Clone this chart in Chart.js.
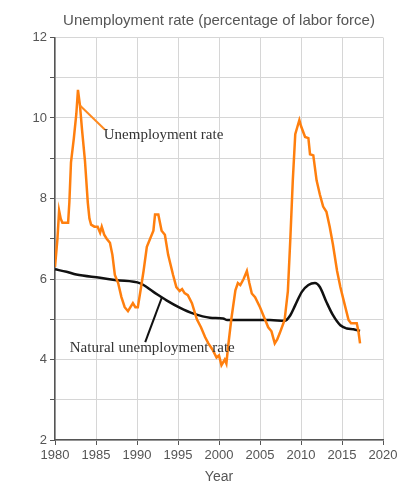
<!DOCTYPE html>
<html>
<head>
<meta charset="utf-8">
<script src="https://cdn.jsdelivr.net/npm/chart.js@4.4.1/dist/chart.umd.min.js"></script>
<style>
  html, body { margin: 0; padding: 0; background: #fff; }
  #wrap { width: 405px; height: 497px; position: relative; }
</style>
</head>
<body>
<div id="wrap"><canvas id="c"></canvas></div>
<script>
// unemployment rate (decimal year, percent)
const unempYears = [1980.0, 1980.3, 1980.5, 1980.7, 1980.9, 1981.3, 1981.6, 1981.75, 1981.95, 1982.3,
  1982.6, 1982.8, 1983.05, 1983.3, 1983.65, 1984.0, 1984.2, 1984.4, 1984.8, 1985.2, 1985.5,
  1985.7, 1986.0, 1986.3, 1986.7, 1987.0, 1987.3, 1987.7, 1988.1, 1988.5, 1988.9,
  1989.2, 1989.5, 1989.8, 1990.1, 1990.5, 1990.8, 1991.2, 1991.6, 1992.0, 1992.2,
  1992.6, 1993.0, 1993.4, 1993.8, 1994.4, 1994.8, 1995.2, 1995.5, 1995.8, 1996.2,
  1996.7, 1997.3, 1997.8, 1998.3, 1998.7, 1999.2, 1999.7, 2000.0, 2000.3, 2000.7,
  2000.9, 2001.1, 2001.5, 2002.0, 2002.3, 2002.6, 2003.0, 2003.4, 2003.7, 2004.0,
  2004.4, 2005.0, 2005.5, 2006.0, 2006.4, 2006.8, 2007.1, 2007.4, 2008.0, 2008.4,
  2008.7, 2009.0, 2009.3, 2009.8, 2010.0, 2010.5, 2010.9, 2011.1, 2011.5, 2011.9,
  2012.3, 2012.7, 2013.1, 2013.5, 2013.9, 2014.4, 2014.8, 2015.2,
  2015.8, 2016.1, 2016.4, 2016.8, 2017.0, 2017.2];
const unempRate = [6.3, 7.0, 7.7, 7.5, 7.4, 7.4, 7.4, 7.9, 8.9, 9.5,
  10.1, 10.7, 10.3, 9.7, 8.95, 7.9, 7.5, 7.35, 7.3, 7.3, 7.15,
  7.3, 7.1, 7.0, 6.9, 6.6, 6.1, 5.9, 5.55, 5.3, 5.2,
  5.3, 5.4, 5.3, 5.3, 5.8, 6.2, 6.8, 7.0, 7.2, 7.6,
  7.6, 7.2, 7.1, 6.6, 6.1, 5.8, 5.7, 5.75, 5.65, 5.6,
  5.4, 5.0, 4.8, 4.56, 4.4, 4.25, 4.05, 4.1, 3.86, 4.0,
  3.9, 4.3, 5.0, 5.72, 5.9, 5.85, 6.0, 6.2, 5.9, 5.64,
  5.55, 5.3, 5.05, 4.8, 4.7, 4.4, 4.5, 4.65, 4.98, 5.7,
  7.0, 8.45, 9.6, 9.95, 9.8, 9.53, 9.5, 9.1, 9.07, 8.45,
  8.1, 7.8, 7.67, 7.3, 6.85, 6.2, 5.8, 5.47,
  4.98, 4.9, 4.9, 4.9, 4.7, 4.4];

// natural unemployment rate
const naturalYears = [1980.0, 1981.4, 1982.6, 1985.5, 1987.5, 1990.4, 1992.0, 1993.6, 1995.2, 1996.9,
  1998.9, 2000.5, 2001.0, 2004.0, 2006.2, 2008.0, 2008.7, 2009.3, 2010.1, 2010.9,
  2011.7, 2012.3, 2013.1, 2013.9, 2014.8, 2015.6, 2016.4, 2017.2];
const naturalRate = [6.24, 6.18, 6.11, 6.03, 5.97, 5.89, 5.68, 5.47, 5.29, 5.14,
  5.04, 5.02, 4.98, 4.98, 4.98, 4.96, 5.1, 5.35, 5.68, 5.85,
  5.9, 5.8, 5.43, 5.1, 4.85, 4.77, 4.75, 4.71];

const xTicks = [1980, 1985, 1990, 1995, 2000, 2005, 2010, 2015, 2020];
const yLabelled = [2, 4, 6, 8, 10, 12];

// label text with anchor in data units, and leader lines
const notes = [
  { text: 'Unemployment rate', x: 1985.95, y: 9.57, line: [1983.05, 10.31, 1986.1, 9.71], lineColor: '#ff8a1f' },
  { text: 'Natural unemployment rate', x: 1981.8, y: 4.28, line: [1991.0, 4.43, 1993.05, 5.55], lineColor: '#111' }
];

const TXT = '#555';
const GRID = '#d6d6d6';
const AXIS = '#555';

const notesPlugin = {
  id: 'notes',
  afterDatasetsDraw(chart) {
    const { ctx, scales: { x, y } } = chart;
    ctx.save();
    notes.forEach(n => {
      ctx.strokeStyle = n.lineColor;
      ctx.lineWidth = 2;
      ctx.beginPath();
      ctx.moveTo(x.getPixelForValue(n.line[0]), y.getPixelForValue(n.line[1]));
      ctx.lineTo(x.getPixelForValue(n.line[2]), y.getPixelForValue(n.line[3]));
      ctx.stroke();
      ctx.fillStyle = '#333';
      ctx.font = '15px "Liberation Serif", "Times New Roman", serif';
      ctx.textAlign = 'left';
      ctx.textBaseline = 'middle';
      ctx.fillText(n.text, x.getPixelForValue(n.x), y.getPixelForValue(n.y));
    });
    ctx.restore();
  }
};

new Chart(document.getElementById('c'), {
  type: 'line',
  data: {
    datasets: [
      {
        label: 'Unemployment rate',
        data: unempYears.map((yr, i) => ({ x: yr, y: unempRate[i] })),
        borderColor: '#ff7f0e',
        borderWidth: 2.5,
        pointRadius: 0,
        tension: 0
      },
      {
        label: 'Natural unemployment rate',
        data: naturalYears.map((yr, i) => ({ x: yr, y: naturalRate[i] })),
        borderColor: '#111',
        borderWidth: 2.5,
        pointRadius: 0,
        cubicInterpolationMode: 'monotone'
      }
    ]
  },
  options: {
    responsive: true,
    maintainAspectRatio: false,
    animation: false,
    layout: { padding: { left: 0, right: 22, top: 0, bottom: 0 } },
    plugins: {
      legend: { display: false },
      tooltip: { enabled: false },
      title: {
        display: true,
        fullSize: false,
        text: 'Unemployment rate (percentage of labor force)',
        color: TXT,
        font: { family: '"Liberation Sans", Arial, sans-serif', size: 15, weight: 'normal' },
        padding: { top: 11.5, bottom: 8 }
      }
    },
    scales: {
      x: {
        type: 'linear',
        min: 1980,
        max: 2020,
        afterBuildTicks: s => { s.ticks = xTicks.map(v => ({ value: v })); },
        afterFit: s => { s.height = 57; },
        ticks: {
          color: TXT,
          padding: 3,
          maxRotation: 0,
          font: { family: '"Liberation Sans", Arial, sans-serif', size: 13 },
          callback: v => String(v)
        },
        grid: { color: GRID, tickColor: AXIS, tickLength: 5, lineWidth: 1 },
        border: { color: AXIS, width: 1.5 },
        title: {
          display: true,
          text: 'Year',
          color: TXT,
          font: { family: '"Liberation Sans", Arial, sans-serif', size: 14 },
          padding: { top: 11, bottom: 11 }
        }
      },
      y: {
        min: 2,
        max: 12,
        afterFit: s => { s.width = 55; },
        ticks: {
          stepSize: 1,
          color: TXT,
          padding: 3,
          font: { family: '"Liberation Sans", Arial, sans-serif', size: 13 },
          callback: v => yLabelled.includes(v) ? String(v) : ''
        },
        grid: { color: GRID, tickColor: AXIS, tickLength: 5, lineWidth: 1 },
        border: { color: AXIS, width: 1.5 }
      }
    }
  },
  plugins: [notesPlugin]
});
</script>
</body>
</html>
